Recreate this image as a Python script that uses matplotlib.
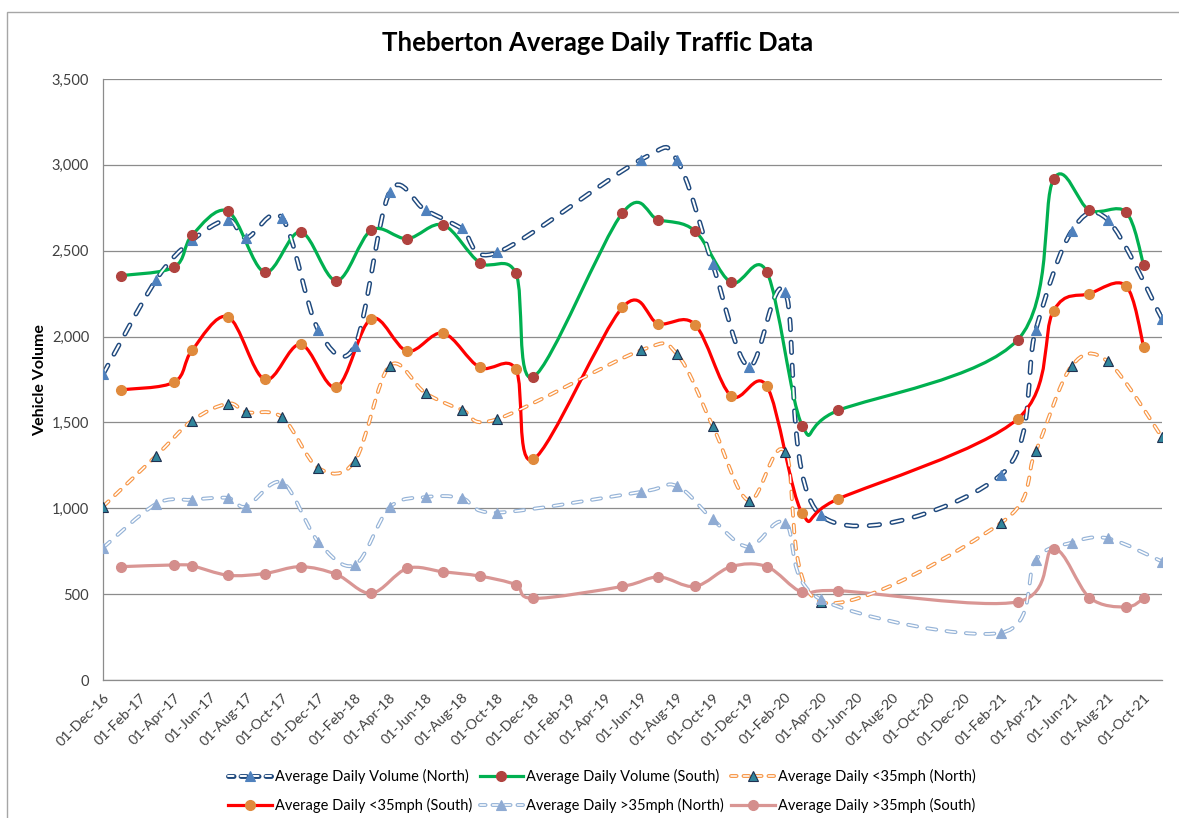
import matplotlib
matplotlib.use("Agg")
import matplotlib.pyplot as plt
import matplotlib.dates as mdates
from matplotlib.path import Path
from matplotlib.patches import PathPatch, Rectangle
from matplotlib.lines import Line2D
from matplotlib.ticker import FuncFormatter, MultipleLocator
import numpy as np

plt.rcParams["font.family"] = ["Lato", "DejaVu Sans"]
plt.rcParams["lines.scale_dashes"] = False

# --- data ---
north_dates = ["2016-12-01", "2017-03-01", "2017-05-01", "2017-07-01", "2017-08-01",
               "2017-10-01", "2017-12-01", "2018-02-01", "2018-04-01", "2018-06-01",
               "2018-08-01", "2018-10-01", "2019-06-01", "2019-08-01", "2019-10-01",
               "2019-12-01", "2020-02-01", "2020-04-01", "2021-02-01", "2021-04-01",
               "2021-06-01", "2021-08-01", "2021-11-01"]
north_volume = [1780, 2330, 2560, 2680, 2575, 2690, 2040, 1945, 2840, 2735, 2630, 2490,
                3030, 3030, 2420, 1825, 2260, 960, 1195, 2040, 2615, 2680, 2105]
north_below35 = [1010, 1305, 1510, 1610, 1560, 1530, 1235, 1275, 1830, 1670, 1575, 1520,
                 1920, 1900, 1480, 1045, 1330, 455, 915, 1335, 1830, 1855, 1415]
north_above35 = [770, 1025, 1050, 1060, 1010, 1150, 805, 670, 1005, 1065, 1060, 975,
                 1095, 1130, 935, 775, 915, 470, 275, 700, 800, 825, 690]

south_dates = ["2017-01-01", "2017-04-01", "2017-05-01", "2017-07-01", "2017-09-01",
               "2017-11-01", "2018-01-01", "2018-03-01", "2018-05-01", "2018-07-01",
               "2018-09-01", "2018-11-01", "2018-12-01", "2019-05-01", "2019-07-01",
               "2019-09-01", "2019-11-01", "2020-01-01", "2020-03-01", "2020-05-01",
               "2021-03-01", "2021-05-01", "2021-07-01", "2021-09-01", "2021-10-01"]
south_volume = [2355, 2405, 2590, 2730, 2375, 2610, 2325, 2620, 2570, 2650, 2430, 2370,
                1765, 2720, 2680, 2615, 2315, 2375, 1480, 1570, 1980, 2915, 2735, 2725, 2415]
south_below35 = [1690, 1735, 1920, 2115, 1750, 1955, 1705, 2105, 1915, 2020, 1820, 1810,
                 1285, 2170, 2075, 2070, 1655, 1710, 970, 1055, 1520, 2150, 2250, 2295, 1940]
south_above35 = [660, 670, 665, 610, 620, 660, 615, 505, 650, 630, 605, 555,
                 475, 545, 600, 545, 660, 660, 510, 520, 455, 765, 480, 425, 475]

nx = mdates.date2num(np.array(north_dates, dtype="datetime64[D]"))
sx = mdates.date2num(np.array(south_dates, dtype="datetime64[D]"))


def smooth_path(x, y):
    # Excel-like smoothed line: Catmull-Rom turned into cubic bezier pieces
    pts = np.column_stack([x, y]).astype(float)
    n = len(pts)
    verts = [pts[0]]
    codes = [Path.MOVETO]
    for i in range(n - 1):
        p0 = pts[max(i - 1, 0)]
        p1 = pts[i]
        p2 = pts[i + 1]
        p3 = pts[min(i + 2, n - 1)]
        verts += [p1 + (p2 - p0) / 6, p2 - (p3 - p1) / 6, p2]
        codes += [Path.CURVE4] * 3
    return Path(verts, codes)


fig = plt.figure(figsize=(11.79, 8.18), dpi=100)
ax = fig.add_axes([103 / 1179, 1 - 680 / 818, (1162 - 103) / 1179, (680 - 79) / 818])

fig.patches.append(Rectangle((7 / 1179, -0.1), 1.2, 1.1 - 12 / 818, transform=fig.transFigure,
                             fill=False, edgecolor="#a6a6a6", lw=1))

handles = {}


def outlined(x, y, color, lw, dash, marker_fc, marker_ec, ms, label):
    path = smooth_path(x, y)
    ls = (0, dash)
    ax.add_patch(PathPatch(path, fill=False, edgecolor=color, lw=lw, linestyle=ls,
                           capstyle="round", zorder=2))
    ax.add_patch(PathPatch(path, fill=False, edgecolor="white", lw=lw * 0.4, linestyle=ls,
                           capstyle="round", zorder=2.1))
    ax.plot(x, y, linestyle="none", marker="^", ms=ms, mfc=marker_fc, mec=marker_ec,
            mew=0.8, zorder=3)
    h1 = Line2D([], [], color=color, lw=lw, linestyle=(0, (4, 5)), dash_capstyle="round")
    h2 = Line2D([], [], color="white", lw=lw * 0.4, linestyle=(0, (4, 5)), dash_capstyle="round")
    h3 = Line2D([], [], linestyle="none", marker="^", ms=ms, mfc=marker_fc, mec=marker_ec, mew=0.8)
    handles[label] = (h1, h2, h3)


def solid(x, y, color, lw, marker_c, ms, label):
    ax.add_patch(PathPatch(smooth_path(x, y), fill=False, edgecolor=color, lw=lw,
                           capstyle="round", joinstyle="round", zorder=2))
    ax.plot(x, y, linestyle="none", marker="o", ms=ms, mfc=marker_c, mec=marker_c, zorder=3)
    handles[label] = Line2D([], [], color=color, lw=lw, marker="o", ms=ms, mfc=marker_c,
                            mec=marker_c)


outlined(nx, north_volume, "#1f497d", 3.5, (7.5, 9.0), "#4f81bd", "#4f81bd", 7,
         "Average Daily Volume (North)")
solid(sx, south_volume, "#00b050", 2.3, "#b0433f", 7, "Average Daily Volume (South)")
outlined(nx, north_below35, "#f79646", 2.8, (5.5, 6.5), "#31859c", "#1f3050", 6.5,
         "Average Daily <35mph (North)")
solid(sx, south_below35, "#ff0000", 2.3, "#e08a3c", 7, "Average Daily <35mph (South)")
outlined(nx, north_above35, "#95b3d7", 2.8, (6.5, 7.5), "#8fabd3", "#8fabd3", 6.5,
         "Average Daily >35mph (North)")
solid(sx, south_above35, "#d99694", 2.3, "#d48e8c", 7, "Average Daily >35mph (South)")

ax.set_xlim(mdates.date2num(np.datetime64("2016-12-01")), mdates.date2num(np.datetime64("2021-11-01")))
ax.set_ylim(0, 3500)
ax.yaxis.set_major_locator(MultipleLocator(500))
ax.yaxis.set_major_formatter(FuncFormatter(lambda v, p: f"{int(v):,}"))
ax.xaxis.set_major_locator(mdates.MonthLocator(bymonth=[2, 4, 6, 8, 10, 12], bymonthday=1))
ax.xaxis.set_major_formatter(mdates.DateFormatter("%d-%b-%y"))
ax.grid(axis="y", color="#8c8c8c", lw=0.9)
ax.set_axisbelow(True)
for s in ["top", "right"]:
    ax.spines[s].set_visible(False)
for s in ["left", "bottom"]:
    ax.spines[s].set_color("#8c8c8c")
    ax.spines[s].set_linewidth(0.9)
ax.tick_params(axis="y", length=0, pad=10, labelsize=10.5, colors="#404040")
ax.tick_params(axis="x", length=0, pad=8, labelsize=10.3, colors="#404040")
for lab in ax.get_xticklabels():
    lab.set_rotation(45)
    lab.set_ha("right")
    lab.set_va("top")
    lab.set_rotation_mode("anchor")

fig.text(598 / 1179, 1 - 43 / 818, "Theberton Average Daily Traffic Data", ha="center", va="center",
         fontsize=18.5, fontweight="bold")
fig.text(40 / 1179, 1 - 380 / 818, "Vehicle Volume", rotation=90, ha="center", va="center",
         fontsize=11.5, fontweight="bold")

order = ["Average Daily Volume (North)", "Average Daily <35mph (South)",
         "Average Daily Volume (South)", "Average Daily >35mph (North)",
         "Average Daily <35mph (North)", "Average Daily >35mph (South)"]
fig.legend([handles[k] for k in order], order, loc="center", ncol=3, frameon=False,
           bbox_to_anchor=(602 / 1179, 1 - 791 / 818), fontsize=10.5, handlelength=3.0,
           handletextpad=0.2, columnspacing=0.5, labelspacing=0.9)

fig.savefig("out.png", dpi=100)
